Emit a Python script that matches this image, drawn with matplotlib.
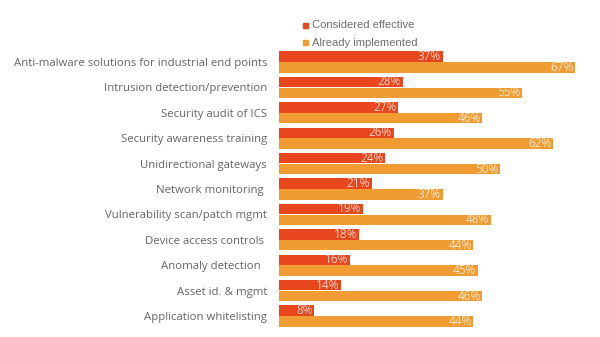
import matplotlib
matplotlib.use("Agg")
import matplotlib.pyplot as plt
from matplotlib.patches import Rectangle

categories = [
    "Anti-malware solutions for industrial end points",
    "Intrusion detection/prevention",
    "Security audit of ICS",
    "Security awareness training",
    "Unidirectional gateways",
    "Network monitoring ",
    "Vulnerability scan/patch mgmt",
    "Device access controls ",
    "Anomaly detection  ",
    "Asset id. & mgmt",
    "Application whitelisting",
]
considered_effective = [37, 28, 27, 26, 24, 21, 19, 18, 16, 14, 8]
already_implemented = [67, 55, 46, 62, 50, 37, 48, 44, 45, 46, 44]
series_names = ["Considered effective", "Already implemented"]

RED = "#e8461c"
ORANGE = "#f09c32"
GRAY = "#666666"

W, H = 600, 337
fig = plt.figure(figsize=(W / 100, H / 100), dpi=100)
fig.patch.set_facecolor("white")

ax_left = 279 / W
ax = fig.add_axes([ax_left, 8.3 / H, 1 - ax_left, 279.4 / H])
n = len(categories)
y = list(range(n))
off = 0.215
h = 0.41
ax.barh([v - off for v in y], considered_effective, height=h, color=RED)
ax.barh([v + off for v in y], already_implemented, height=h, color=ORANGE)
ax.set_xlim(0, (W - 279) / 4.42)
ax.set_ylim(n - 0.5, -0.5)
ax.set_yticks(y)
ax.set_yticklabels(categories, fontsize=8.2, color=GRAY, family="Open Sans")
ax.tick_params(axis="y", length=0, pad=8.6)
ax.set_xticks([])
for s in ax.spines.values():
    s.set_visible(False)

for i in y:
    ax.text(considered_effective[i] - 0.4, i - off, f"{considered_effective[i]}%",
            ha="right", va="center", fontsize=8.5, color="white", alpha=0.75,
            family="Open Sans")
    ax.text(already_implemented[i] - 0.4, i + off, f"{already_implemented[i]}%",
            ha="right", va="center", fontsize=8.5, color="white", alpha=0.75,
            family="Open Sans")

# legend
for k, (name, col) in enumerate(zip(series_names, [RED, ORANGE])):
    yc = 1 - (25 + 17.5 * k) / H
    fig.patches.append(Rectangle((303 / W, yc - 2.5 / H), 5 / W, 5 / H,
                                 transform=fig.transFigure, color=col))
    fig.text(312 / W, yc, name, ha="left", va="center", fontsize=8.1,
             color="#707070", family="Liberation Sans")

fig.savefig("out.png", dpi=100, facecolor="white")
